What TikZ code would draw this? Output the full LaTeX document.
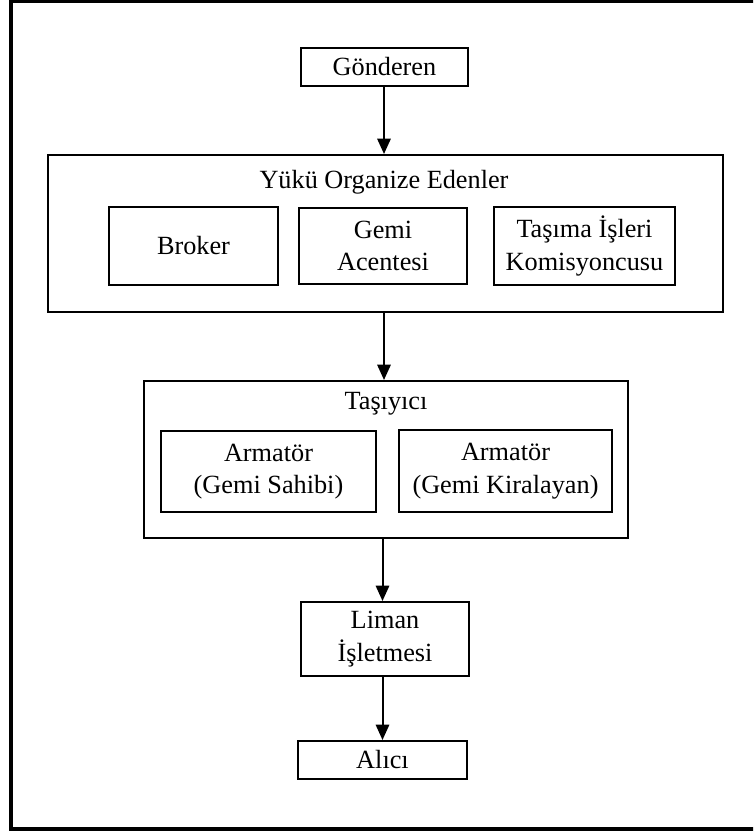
\documentclass[tikz,border=0pt]{standalone}
\usepackage{fontspec}
\setmainfont{Liberation Serif}
\usetikzlibrary{arrows.meta}
\begin{document}
\begin{tikzpicture}[x=0.75pt,y=-0.75pt,
  box/.style={draw,line width=1.5pt,inner sep=0pt,align=center,font=\fontsize{19.7pt}{24.5pt}\selectfont},
  ttl/.style={inner sep=0pt,font=\fontsize{19.7pt}{24.5pt}\selectfont},
  arr/.style={line width=1.5pt,-{Triangle[length=11.5pt,width=10pt]}},
  frame/.style={draw,line width=3pt}]
\useasboundingbox (0,0) rectangle (753,831);
\begin{scope}
\clip (0,0) rectangle (753,831);
\draw[frame] (11.3,1.3) rectangle (760,829);
\end{scope}
\node[box,minimum width=167*0.75pt,minimum height=38*0.75pt] (gon) at (384.5,67) {Gönderen};
\node[box,minimum width=675*0.75pt,minimum height=157*0.75pt] (yuk) at (385.5,233.5) {};
\node[ttl] (yukt) at (384,182) {Yükü Organize Edenler};
\node[box,minimum width=169*0.75pt,minimum height=78*0.75pt] (bro) at (193.5,246) {Broker};
\node[box,minimum width=168*0.75pt,minimum height=76*0.75pt] (acn) at (383,246) {Gemi\\Acentesi};
\node[box,minimum width=181*0.75pt,minimum height=78*0.75pt] (kom) at (584.5,246) {Taşıma İşleri\\Komisyoncusu};
\node[box,minimum width=484*0.75pt,minimum height=157*0.75pt] (tas) at (386,459.5) {};
\node[ttl] (tast) at (386,404) {Taşıyıcı};
\node[box,minimum width=215*0.75pt,minimum height=81*0.75pt] (sah) at (268.5,471.5) {Armatör\\(Gemi Sahibi)};
\node[box,minimum width=213*0.75pt,minimum height=82*0.75pt] (kir) at (505.5,471) {Armatör\\(Gemi Kiralayan)};
\node[box,minimum width=168*0.75pt,minimum height=74*0.75pt] (lim) at (385,639) {Liman\\İşletmesi};
\node[box,minimum width=169*0.75pt,minimum height=38*0.75pt] (ali) at (382.5,760) {Alıcı};
\coordinate (a1) at (384,86);
\draw[arr] (gon.south -| a1) -- (yuk.north -| a1);
\coordinate (a2) at (384,312);
\draw[arr] (yuk.south -| a2) -- (tas.north -| a2);
\coordinate (a3) at (382.5,538);
\draw[arr] (tas.south -| a3) -- (lim.north -| a3);
\draw[arr] (lim.south -| a3) -- (ali.north -| a3);
\end{tikzpicture}
\end{document}
